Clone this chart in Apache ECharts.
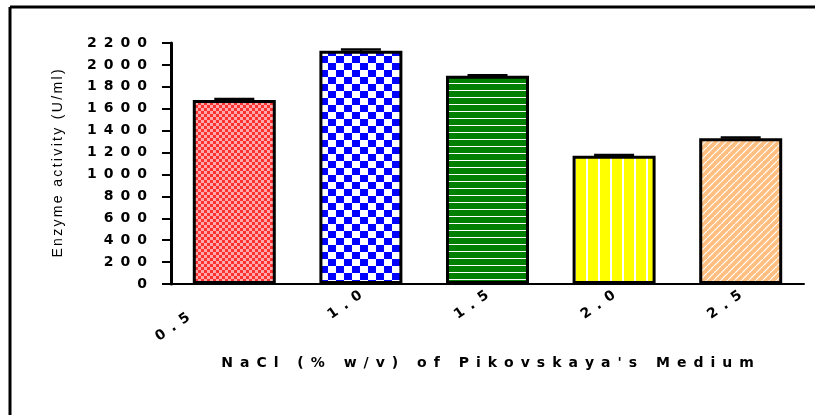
<!DOCTYPE html>
<html>
<head>
<meta charset="utf-8">
<script src="https://cdn.jsdelivr.net/npm/echarts@6/dist/echarts.min.js"></script>
<style>
  html, body { margin: 0; padding: 0; background: #fff; }
  #chart { width: 815px; height: 415px; }
</style>
</head>
<body>
<div id="chart"></div>
<script>
// NaCl concentration (% w/v) and enzyme activity (U/ml)
const categories = ['0.5', '1.0', '1.5', '2.0', '2.5']
const activity = [1680, 2130, 1900, 1170, 1330]
const activityErr = [8, 10, 6, 8, 8]
const yTicks = { min: 0, max: 2200, interval: 200 }

const SP = '\u2002' // wide letter spacing like the original graph
function spaced(s, sp) {
  return s.split('').join(sp || SP)
}

function tile(w, h, draw) {
  const c = document.createElement('canvas')
  c.width = w
  c.height = h
  draw(c.getContext('2d'))
  return { image: c, repeat: 'repeat' }
}

const patterns = [
  // red small check
  tile(6, 6, function(g) {
    g.fillStyle = '#ffaaaa'
    g.fillRect(0, 0, 6, 6)
    g.fillStyle = '#ff3030'
    g.fillRect(0, 0, 3, 3)
    g.fillRect(3, 3, 3, 3)
  }),
  // blue checkerboard
  tile(16, 14, function(g) {
    g.fillStyle = '#ffffff'
    g.fillRect(0, 0, 16, 14)
    g.fillStyle = '#0000ff'
    g.fillRect(0, 0, 8, 7)
    g.fillRect(8, 7, 8, 7)
  }),
  // green with horizontal white lines
  tile(4, 7, function(g) {
    g.fillStyle = '#007f00'
    g.fillRect(0, 0, 4, 7)
    g.fillStyle = '#ffffff'
    g.fillRect(0, 6, 4, 1)
  }),
  // yellow with vertical white lines
  tile(12, 4, function(g) {
    g.fillStyle = '#ffff00'
    g.fillRect(0, 0, 12, 4)
    g.fillStyle = '#ffffff'
    g.fillRect(10, 0, 2, 4)
  }),
  // peach with diagonal white lines
  tile(7, 7, function(g) {
    g.fillStyle = '#ffbf80'
    g.fillRect(0, 0, 7, 7)
    g.strokeStyle = '#ffffff'
    g.lineWidth = 1.2
    g.beginPath()
    g.moveTo(-1, 8)
    g.lineTo(8, -1)
    g.stroke()
  })
]

const labelFont = { color: '#000', fontFamily: 'DejaVu Sans', fontWeight: 'bold', fontSize: 14 }

const chart = echarts.init(document.getElementById('chart'))

chart.setOption({
  animation: false,
  grid: { left: 171, right: 11, top: 43, bottom: 131 },
  graphic: [
    { type: 'line', shape: { x1: 10, y1: 7, x2: 815, y2: 7 }, style: { stroke: '#000', lineWidth: 3 } },
    { type: 'line', shape: { x1: 10, y1: 7, x2: 10, y2: 415 }, style: { stroke: '#000', lineWidth: 3 } }
  ],
  xAxis: {
    type: 'category',
    data: categories,
    name: spaced("NaCl (% w/v) of Pikovskaya's Medium"),
    nameLocation: 'middle',
    nameGap: 72,
    nameTextStyle: { color: '#000', fontFamily: 'DejaVu Sans', fontWeight: 'bold', fontSize: 14 },
    axisLine: { lineStyle: { color: '#000', width: 2 } },
    axisTick: { alignWithLabel: true, length: 6, lineStyle: { color: '#000', width: 3 } },
    axisLabel: {
      interval: 0,
      rotate: 35,
      margin: 10,
      color: '#000',
      fontFamily: 'DejaVu Sans',
      fontWeight: 'bold',
      fontSize: 14,
      // the first label sits lower-left in the original
      formatter: function(v, i) {
        return i === 0 ? '{off|' + spaced(v) + '}' : spaced(v)
      },
      rich: {
        off: Object.assign({ padding: [0, 50, 16, 0] }, labelFont)
      }
    }
  },
  yAxis: {
    type: 'value',
    min: yTicks.min,
    max: yTicks.max,
    interval: yTicks.interval,
    name: spaced('Enzyme activity (U/ml)', '\u2006'),
    nameLocation: 'middle',
    nameGap: 106,
    nameTextStyle: { color: '#000', fontFamily: 'Liberation Sans', fontSize: 14 },
    splitLine: { show: false },
    axisLine: { show: true, lineStyle: { color: '#000', width: 3 } },
    axisTick: { show: true, length: 9, lineStyle: { color: '#000', width: 2 } },
    axisLabel: Object.assign({
      margin: 24,
      formatter: function(v) { return spaced(String(v)) }
    }, labelFont)
  },
  series: [
    {
      type: 'bar',
      barWidth: 83,
      data: activity.map(function(v, i) {
        return {
          value: v,
          itemStyle: { color: patterns[i], borderColor: '#000', borderWidth: 3 }
        }
      })
    },
    {
      type: 'custom',
      z: 5,
      data: activity.map(function(v, i) { return [i, v, activityErr[i]] }),
      renderItem: function(params, api) {
        const hi = api.coord([api.value(0), api.value(1) + api.value(2)])
        const lo = api.coord([api.value(0), api.value(1) - api.value(2)])
        const half = 20
        return {
          type: 'group',
          children: [
            { type: 'line', shape: { x1: hi[0], y1: hi[1], x2: lo[0], y2: lo[1] }, style: { stroke: '#000', lineWidth: 2 } },
            { type: 'line', shape: { x1: hi[0] - half, y1: hi[1], x2: hi[0] + half, y2: hi[1] }, style: { stroke: '#000', lineWidth: 2.5 } }
          ]
        }
      }
    }
  ]
})
</script>
</body>
</html>
